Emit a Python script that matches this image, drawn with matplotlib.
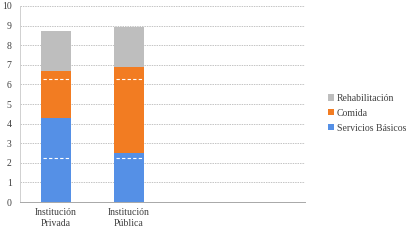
import matplotlib
matplotlib.use("Agg")
import matplotlib.pyplot as plt
import numpy as np

categories = ["Institución\nPrivada", "Institución\nPública"]
basicos = [4.3, 2.5]
comida = [2.4, 4.4]
rehab = [2.0, 2.05]
white_marks = [2.25, 6.25]

plt.rcParams["font.family"] = ["Liberation Serif", "DejaVu Serif"]

fig = plt.figure(figsize=(4.16, 2.43), dpi=100)
ax = fig.add_axes([20 / 416, 1 - 202 / 243, 285 / 416, 196 / 243])

x = np.arange(len(categories))
w = 0.41
b1 = ax.bar(x, basicos, w, color="#5590E6", label="Servicios Básicos", zorder=2)
b2 = ax.bar(x, comida, w, bottom=basicos, color="#F27C22", label="Comida", zorder=2)
bottom2 = np.array(basicos) + np.array(comida)
b3 = ax.bar(x, rehab, w, bottom=bottom2, color="#BEBEBE", label="Rehabilitación", zorder=2)

for yv in white_marks:
    for xi in x:
        ax.plot([xi - w / 2 + 0.03, xi + w / 2 - 0.03], [yv, yv], color="white",
                ls=(0, (3, 2)), lw=0.8, zorder=3)

ax.set_xlim(-0.493, 3.41)
ax.set_ylim(0, 10)
ax.set_yticks(range(0, 11))
ax.set_xticks(x)
ax.set_xticklabels(categories, fontsize=7, color="#404040", linespacing=1.3)
ax.tick_params(axis="y", labelsize=7, colors="#404040", length=0, pad=6)
ax.tick_params(axis="x", length=0, pad=4)
ax.yaxis.grid(True, color="#C4C4C4", ls=(0, (1.5, 1)), lw=0.7, zorder=0)
for s in ["top", "right"]:
    ax.spines[s].set_visible(False)
ax.spines["left"].set_color("#D0D0D0")
ax.spines["bottom"].set_color("#A8A8A8")
ax.spines["left"].set_linewidth(0.7)
ax.spines["bottom"].set_linewidth(0.7)

leg = fig.legend(handles=[b3, b2, b1], loc="upper left", bbox_to_anchor=(324 / 416, 1 - 90 / 243),
                 frameon=False, fontsize=7, handlelength=0.6, handleheight=0.6,
                 handletextpad=0.3, labelspacing=0.6, borderaxespad=0)
for t in leg.get_texts():
    t.set_color("#404040")

fig.savefig("out.png", dpi=100)
